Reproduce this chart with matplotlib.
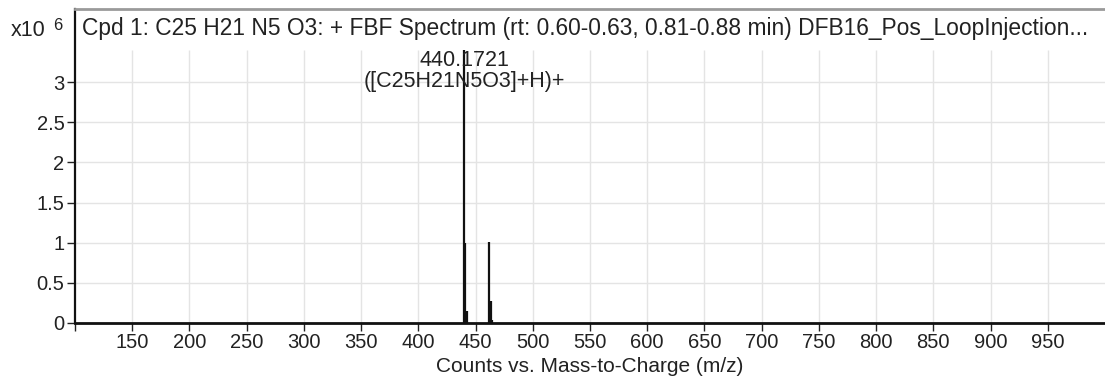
import matplotlib
matplotlib.use("Agg")
import matplotlib.pyplot as plt

# peak list (m/z, counts x10^6)
mz = [440.17, 441.18, 442.18, 462.15, 463.16, 464.16]
counts = [3.40, 0.99, 0.15, 1.01, 0.28, 0.04]

x_ticks = list(range(100, 1000, 50))
y_ticks = [0, 0.5, 1, 1.5, 2, 2.5, 3]
y_labels = ["0", "0.5", "1", "1.5", "2", "2.5", "3"]

title = "Cpd 1: C25 H21 N5 O3: + FBF Spectrum (rt: 0.60-0.63, 0.81-0.88 min) DFB16_Pos_LoopInjection..."
peak_label = "440.1721\n([C25H21N5O3]+H)+"
grid_top = 3.4

plt.rcParams["font.family"] = ["Liberation Sans", "DejaVu Sans"]
txt = "#222222"

fig = plt.figure(figsize=(11.05, 3.78), dpi=100)
ax = fig.add_axes([75 / 1105, 55 / 378, 1 - 75 / 1105, (378 - 55 - 9) / 378])
ax.set_xlim(100, 1000)
ax.set_ylim(0, 3.91)

# grid
ax.vlines(x_ticks[1:], 0, grid_top, color="#e4e4e4", lw=1.0, zorder=0)
ax.hlines(y_ticks[1:], 100, 1000, color="#e4e4e4", lw=1.0, zorder=0)

ax.vlines(mz, 0, counts, color="#111111", lw=1.6, zorder=3)

ax.text(mz[0], 3.14, peak_label, ha="center", va="center", fontsize=15.5,
        color=txt, linespacing=1.0, zorder=4)

ax.set_xticks(x_ticks)
ax.set_xticklabels([""] + [str(t) for t in x_ticks[1:]])
ax.set_yticks(y_ticks)
ax.set_yticklabels(y_labels)
ax.tick_params(axis="both", direction="out", length=6, width=1.0,
               labelsize=14.5, colors=txt, pad=1.5)
ax.set_xlabel("Counts vs. Mass-to-Charge (m/z)", fontsize=15, color=txt, va="center")
ax.xaxis.set_label_coords(0.5, -(367 - 323) / 314)

ax.spines["right"].set_visible(False)
ax.spines["left"].set_linewidth(1.6)
ax.spines["left"].set_color("#111111")
ax.spines["bottom"].set_linewidth(2.0)
ax.spines["bottom"].set_color("#111111")
ax.spines["top"].set_linewidth(2.0)
ax.spines["top"].set_color("#9a9a9a")

ax.text(7 / 1030, 1 - 19 / 314, title, transform=ax.transAxes, ha="left",
        va="center", fontsize=16.4, color=txt)

fig.text(11 / 1105, 1 - 30 / 378, "x10", ha="left", va="center",
         fontsize=15.5, color=txt)
fig.text(53 / 1105, 1 - 26 / 378, "6", ha="left", va="center",
         fontsize=12, color=txt)

fig.savefig("out.png", dpi=100)
